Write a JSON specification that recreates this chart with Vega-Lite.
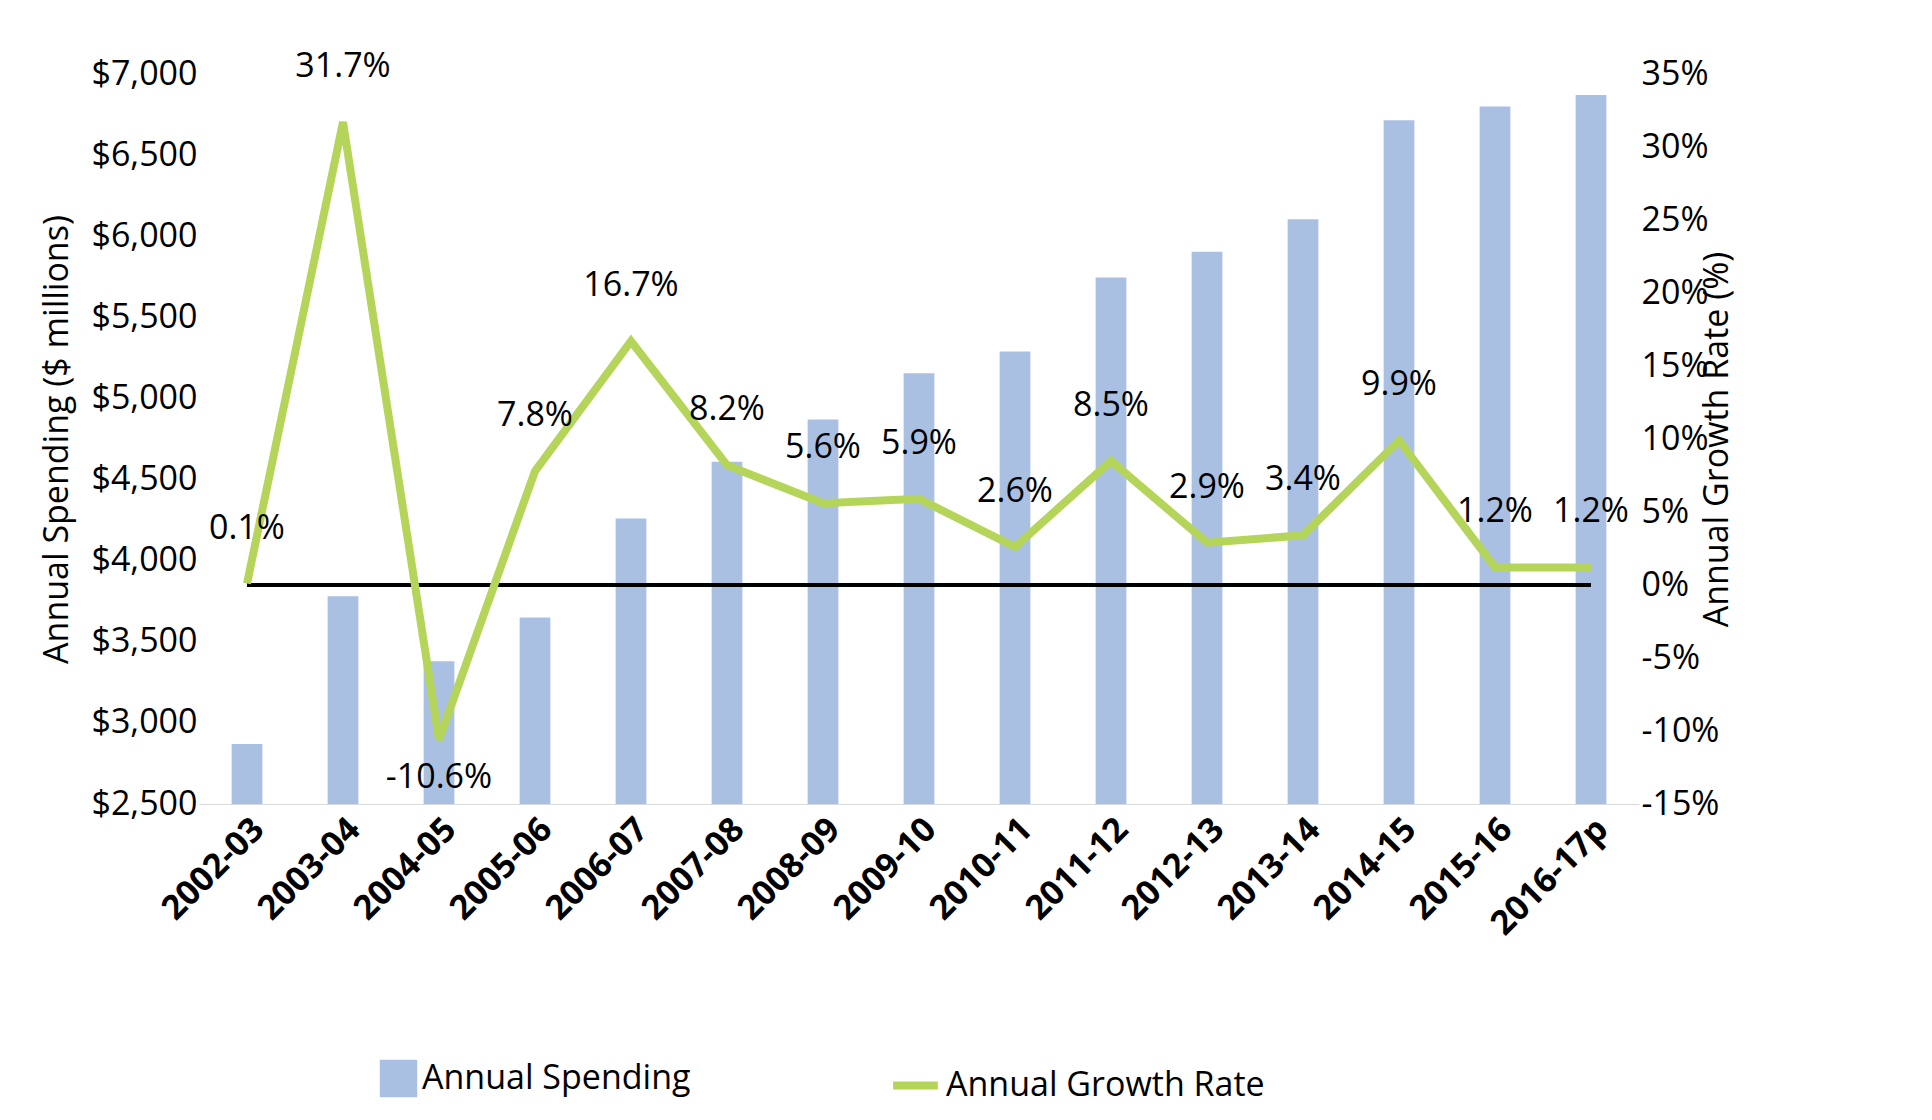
{
"$schema":"https://vega.github.io/schema/vega-lite/v6.json",
"width":1440,"height":730,
"padding":{"left":40,"top":50,"right":20,"bottom":10},
"background":"white",
"config":{"font":"Open Sans","view":{"stroke":null},"axis":{"labelFontSize":34,"titleFontSize":34,"labelColor":"#000","titleColor":"#000","titleFontWeight":"normal","grid":false,"ticks":false,"domain":false,"labelLimit":0},"legend":{"labelFontSize":34,"labelColor":"#000","labelLimit":0}},
"data":{"values":[
{"year":"2002-03","spending":2870,"growth":0.1,"label":"0.1%"},
{"year":"2003-04","spending":3780,"growth":31.7,"label":"31.7%"},
{"year":"2004-05","spending":3380,"growth":-10.6,"label":"-10.6%"},
{"year":"2005-06","spending":3650,"growth":7.8,"label":"7.8%"},
{"year":"2006-07","spending":4260,"growth":16.7,"label":"16.7%"},
{"year":"2007-08","spending":4610,"growth":8.2,"label":"8.2%"},
{"year":"2008-09","spending":4870,"growth":5.6,"label":"5.6%"},
{"year":"2009-10","spending":5155,"growth":5.9,"label":"5.9%"},
{"year":"2010-11","spending":5290,"growth":2.6,"label":"2.6%"},
{"year":"2011-12","spending":5745,"growth":8.5,"label":"8.5%"},
{"year":"2012-13","spending":5905,"growth":2.9,"label":"2.9%"},
{"year":"2013-14","spending":6105,"growth":3.4,"label":"3.4%"},
{"year":"2014-15","spending":6715,"growth":9.9,"label":"9.9%"},
{"year":"2015-16","spending":6800,"growth":1.2,"label":"1.2%"},
{"year":"2016-17p","spending":6870,"growth":1.2,"label":"1.2%"}
]},
"encoding":{"x":{"field":"year","type":"nominal","sort":null,"title":null,"scale":{"paddingInner":0.68,"paddingOuter":0.34},"axis":{"labelAngle":-45,"labelFontWeight":"bold","labelFontSize":34,"labelPadding":8,"domain":true,"domainColor":"#d9d9d9"}}},
"layer":[
{"mark":{"type":"bar","color":"#aac0e3","clip":true},
 "encoding":{"y":{"field":"spending","type":"quantitative","scale":{"domain":[2500,7000]},"axis":{"format":"$,d","tickCount":10,"title":"Annual Spending ($ millions)","titlePadding":16}},
 "color":{"datum":"Annual Spending","type":"nominal","scale":{"range":["#aac0e3"]},"legend":{"orient":"none","legendX":180,"legendY":985,"title":null,"symbolType":"square","symbolSize":1400,"direction":"horizontal"}}}},
{"mark":{"type":"rule","color":"#000","strokeWidth":3},
 "encoding":{"x":{"datum":"2002-03"},"x2":{"datum":"2016-17p"},"y":{"datum":0,"type":"quantitative","scale":{"domain":[-15,35]},"axis":null}}},
{"mark":{"type":"line","strokeWidth":8,"color":"#b5d55a"},
 "encoding":{"y":{"field":"growth","type":"quantitative","scale":{"domain":[-15,35]},"axis":{"orient":"right","tickCount":10,"labelExpr":"datum.value+'%'","title":"Annual Growth Rate (%)","titleAngle":-90,"titlePadding":16}},
 "stroke":{"datum":"Annual Growth Rate","type":"nominal","scale":{"range":["#b5d55a"]},"legend":{"orient":"none","legendX":690,"legendY":985,"title":null,"symbolType":"stroke","symbolStrokeWidth":8,"symbolSize":2000,"direction":"horizontal"}}}},
{"transform":[{"filter":"datum.growth>=0"}],
 "mark":{"type":"text","fontSize":34,"dy":-55,"color":"#000"},
 "encoding":{"y":{"field":"growth","type":"quantitative","scale":{"domain":[-15,35]},"axis":null},"text":{"field":"label"}}},
{"transform":[{"filter":"datum.growth<0"}],
 "mark":{"type":"text","fontSize":34,"dy":38,"color":"#000"},
 "encoding":{"y":{"field":"growth","type":"quantitative","scale":{"domain":[-15,35]},"axis":null},"text":{"field":"label"}}}
],
"resolve":{"scale":{"y":"independent","color":"independent","stroke":"independent"}}
}
